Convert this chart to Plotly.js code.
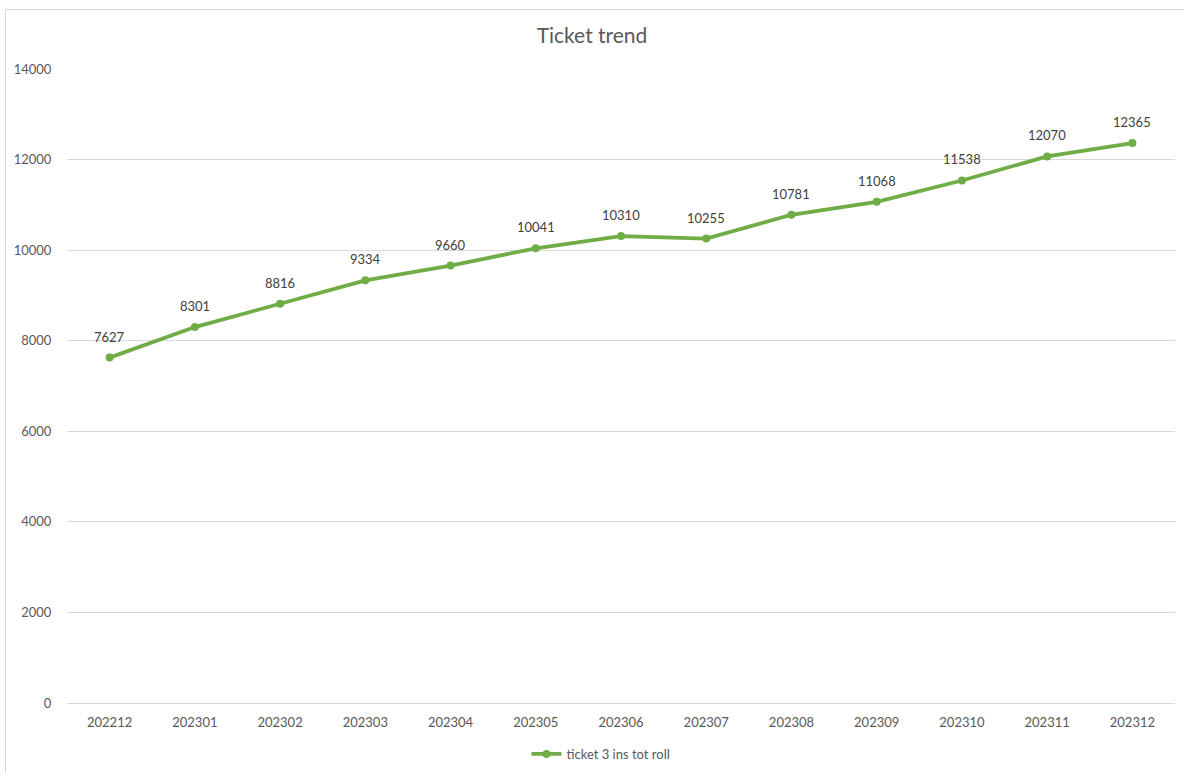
<!DOCTYPE html>
<html>
<head>
<meta charset="utf-8">
<script src="https://cdn.plot.ly/plotly-3.0.1.min.js"></script>
<style>
  html, body { margin: 0; padding: 0; background: #fff; overflow: hidden; }
  #chart { width: 1184px; height: 773px; }
  #frame { position: absolute; left: 5px; top: 9px; width: 1200px; height: 800px;
           border: 1px solid #D9D9D9; pointer-events: none; }
</style>
</head>
<body>
<div id="chart"></div>
<div id="frame"></div>
<script>
const months = ["202212","202301","202302","202303","202304","202305","202306","202307","202308","202309","202310","202311","202312"];
const tickets = [7627, 8301, 8816, 9334, 9660, 10041, 10310, 10255, 10781, 11068, 11538, 12070, 12365];
const seriesName = "ticket 3 ins tot roll";
const chartTitle = "Ticket trend";

const FONT = "Lato, 'Open Sans', sans-serif";

const trace = {
  x: months,
  y: tickets,
  type: "scatter",
  mode: "lines+markers",
  name: seriesName,
  line: { color: "#70AD47", width: 3.8 },
  marker: { color: "#70AD47", size: 8 },
  cliponaxis: false
};

// data labels: positioned by category index on the same category axis
const labels = months.map((m, i) => ({
  x: i,
  y: tickets[i],
  xref: "x",
  yref: "y",
  text: String(tickets[i]),
  showarrow: false,
  yshift: 21,
  yanchor: "middle",
  font: { family: FONT, size: 13, color: "#404040" }
}));

const layout = {
  width: 1184,
  height: 773,
  margin: { l: 67, r: 9, t: 69, b: 70 },
  paper_bgcolor: "#ffffff",
  plot_bgcolor: "#ffffff",
  font: { family: FONT, color: "#595959", size: 13 },
  title: {
    text: chartTitle,
    font: { size: 21, color: "#595959", family: FONT },
    x: 0.5, xanchor: "center",
    y: 1 - 36 / 773, yanchor: "middle"
  },
  xaxis: {
    type: "category",
    range: [-0.5, 12.5],
    showgrid: false,
    zeroline: false,
    showline: false,
    ticks: "outside",
    ticklen: 7,
    tickcolor: "rgba(0,0,0,0)",
    tickfont: { size: 13, color: "#595959" },
    fixedrange: true,
    automargin: false
  },
  yaxis: {
    range: [0, 14000],
    tickvals: [0, 2000, 4000, 6000, 8000, 10000, 12000, 14000],
    ticktext: ["0", "2000", "4000", "6000", "8000", "10000", "12000", "14000"],
    showgrid: true,
    gridcolor: "#D9D9D9",
    gridwidth: 1,
    zeroline: true,
    zerolinecolor: "#D9D9D9",
    zerolinewidth: 1,
    showline: false,
    ticks: "outside",
    ticklen: 12,
    tickcolor: "rgba(0,0,0,0)",
    tickfont: { size: 13, color: "#595959" },
    fixedrange: true,
    automargin: false
  },
  annotations: labels,
  showlegend: true,
  legend: {
    orientation: "h",
    xref: "paper",
    yref: "container",
    x: 0.5 - 20 / 1108, xanchor: "center",
    y: 1 - 754 / 773, yanchor: "middle",
    font: { size: 13, color: "#595959" },
    itemwidth: 30
  }
};

Plotly.newPlot("chart", [trace], layout, { displayModeBar: false, staticPlot: true });
</script>
</body>
</html>
